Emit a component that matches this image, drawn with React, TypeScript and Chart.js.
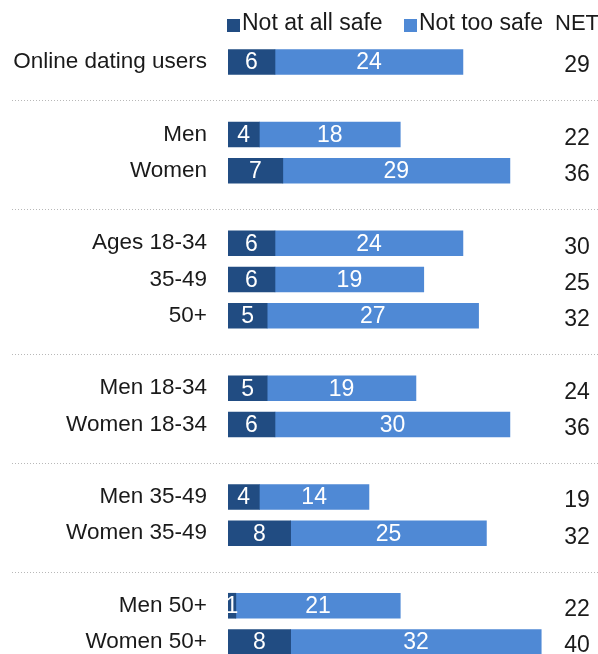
import React, { useEffect, useRef } from "react";
import { Chart, registerables } from "chart.js";

Chart.register(...registerables);

const categories = [
  "Online dating users",
  "Men",
  "Women",
  "Ages 18-34",
  "35-49",
  "50+",
  "Men 18-34",
  "Women 18-34",
  "Men 35-49",
  "Women 35-49",
  "Men 50+",
  "Women 50+",
];
const groupSizes = [1, 2, 3, 2, 2, 2];
const notAtAllSafe = [6, 4, 7, 6, 6, 5, 5, 6, 4, 8, 1, 8];
const notTooSafe = [24, 18, 29, 24, 19, 27, 19, 30, 14, 25, 21, 32];
const netValues = [29, 22, 36, 30, 25, 32, 24, 36, 19, 32, 22, 40];
const seriesNames = ["Not at all safe", "Not too safe"];
const netLabel = "NET";

const DARK = "#214c82";
const LIGHT = "#4f89d5";
const FONT = "'Liberation Sans', Arial, sans-serif";

// slot index for each category, with a blank slot between groups
const slots: number[] = [];
const separatorSlots: number[] = [];
{
  let s = 0;
  groupSizes.forEach((g, gi) => {
    for (let i = 0; i < g; i++) slots.push(s++);
    if (gi < groupSizes.length - 1) separatorSlots.push(s++);
  });
}

export default function App() {
  const ref = useRef<HTMLCanvasElement | null>(null);
  useEffect(() => {
    if (!ref.current) return;
    const overlay = {
      id: "overlay",
      afterDatasetsDraw(chart: any) {
        const ctx = chart.ctx;
        const yScale = chart.scales.y;
        ctx.save();
        // bar value labels
        chart.data.datasets.forEach((ds: any, di: number) => {
          const meta = chart.getDatasetMeta(di);
          meta.data.forEach((el: any, i: number) => {
            const v = di === 0 ? notAtAllSafe[i] : notTooSafe[i];
            const cx = (el.x + el.base) / 2;
            ctx.fillStyle = "#ffffff";
            ctx.font = `23px ${FONT}`;
            ctx.textAlign = "center";
            ctx.textBaseline = "middle";
            ctx.fillText(String(v), cx, el.y + 1);
          });
        });
        // NET values
        ctx.fillStyle = "#1a1a1a";
        ctx.font = `23px ${FONT}`;
        ctx.textAlign = "center";
        ctx.textBaseline = "middle";
        netValues.forEach((v, i) => {
          ctx.fillText(String(v), 577, yScale.getPixelForValue(slots[i]) + 4);
        });
        // separators
        ctx.strokeStyle = "#b8b8b8";
        ctx.lineWidth = 1;
        ctx.setLineDash([1, 2]);
        separatorSlots.forEach((s) => {
          const y = Math.round(yScale.getPixelForValue(s) + 2) + 0.5;
          ctx.beginPath();
          ctx.moveTo(12, y);
          ctx.lineTo(598, y);
          ctx.stroke();
        });
        ctx.setLineDash([]);
        // legend
        const ly = 24;
        ctx.fillStyle = DARK;
        ctx.fillRect(227, 19, 13, 13);
        ctx.fillStyle = LIGHT;
        ctx.fillRect(404, 19, 13, 13);
        ctx.fillStyle = "#1a1a1a";
        ctx.textAlign = "left";
        ctx.fillText(seriesNames[0], 242, ly);
        ctx.fillText(seriesNames[1], 419, ly);
        ctx.textAlign = "center";
        ctx.font = `22px ${FONT}`;
        ctx.fillText(netLabel, 577, ly);
        ctx.restore();
      },
    };
    const chart = new Chart(ref.current, {
      type: "bar",
      data: {
        datasets: [
          {
            label: seriesNames[0],
            data: notAtAllSafe.map((v, i) => ({ x: v, y: slots[i] })),
            backgroundColor: DARK,
            barThickness: 25,
          },
          {
            label: seriesNames[1],
            data: notTooSafe.map((v, i) => ({ x: v, y: slots[i] })),
            backgroundColor: LIGHT,
            barThickness: 25,
          },
        ],
      },
      options: {
        indexAxis: "y",
        animation: false,
        responsive: false,
        maintainAspectRatio: false,
        layout: { padding: 0 },
        plugins: {
          legend: { display: false },
          tooltip: { enabled: false },
        },
        scales: {
          x: {
            type: "linear",
            stacked: true,
            display: false,
            min: 0,
            max: 47.25,
          },
          y: {
            type: "linear",
            stacked: true,
            reverse: true,
            offset: false,
            min: -1.7103,
            max: 16.331,
            grid: { display: false, drawTicks: false, offset: false },
            border: { display: false },
            afterBuildTicks: (scale: any) => {
              scale.ticks = slots.map((s) => ({ value: s }));
            },
            afterFit: (scale: any) => {
              scale.width = 228;
              scale.paddingTop = 0;
              scale.paddingBottom = 0;
            },
            ticks: {
              autoSkip: false,
              padding: 21,
              color: "#1a1a1a",
              font: { size: 22.5, family: FONT, lineHeight: 0.05 },
              callback: (value: any) => {
                const idx = slots.indexOf(Number(value));
                return idx >= 0 ? categories[idx] : "";
              },
            },
          },
        },
      } as any,
      plugins: [overlay],
    });
    return () => chart.destroy();
  }, []);
  return (
    <div
      style={{
        position: "absolute",
        left: 0,
        top: 0,
        width: 598,
        height: 654,
        overflow: "hidden",
        background: "#ffffff",
      }}
    >
      <canvas ref={ref} width={598} height={654} style={{ display: "block" }} />
    </div>
  );
}
